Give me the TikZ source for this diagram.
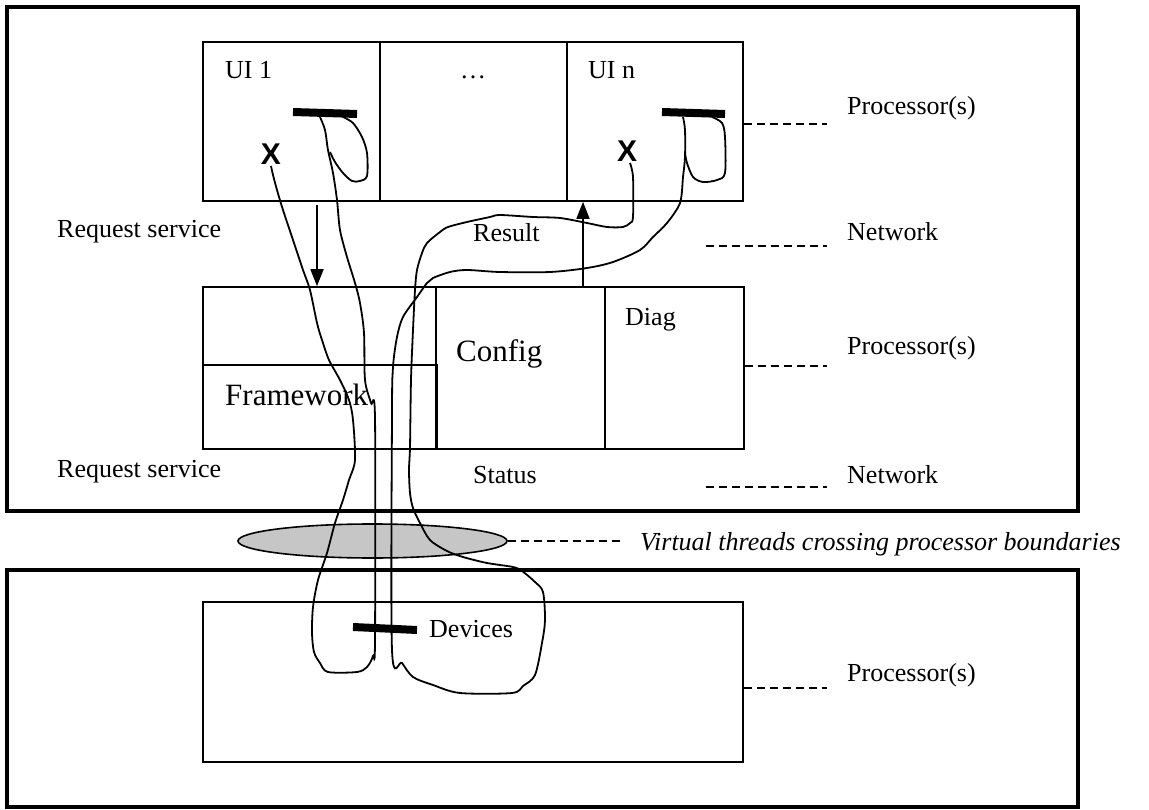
\documentclass[tikz,border=0pt]{standalone}
\usepackage{fontspec}
\setmainfont{Liberation Serif}
\newfontfamily\xsans{Liberation Sans}
\usetikzlibrary{arrows.meta,shapes.geometric}
\begin{document}
\begin{tikzpicture}[x=1pt,y=-1pt,
  outer/.style={draw, line width=4pt, inner sep=0pt},
  box/.style={draw, line width=1.6pt, inner sep=0pt},
  thread/.style={line width=1.8pt},
  bar/.style={line width=8pt},
  lead/.style={line width=1.6pt, dash pattern=on 8pt off 5pt},
  lbl/.style={anchor=base west, inner sep=0pt, font=\fontsize{26}{30}\selectfont},
  big/.style={anchor=base west, inner sep=0pt, font=\fontsize{31}{36}\selectfont},
  xmark/.style={inner sep=0pt, font=\xsans\bfseries\fontsize{30}{30}\selectfont},
  req/.style={line width=1.6pt, -{Triangle[length=17pt,width=13pt]}}
]
\useasboundingbox (0,0) rectangle (1149,810);

% outer processor boxes
\node[outer, minimum width=1071pt, minimum height=504pt] (top) at (542.5,259) {};
\node[outer, minimum width=1071pt, minimum height=237pt] (bot) at (542.5,688.5) {};

% UI row
\node[box, minimum width=177pt, minimum height=159pt] (ui1) at (291.5,121.5) {};
\node[box, minimum width=187pt, minimum height=159pt] (uimid) at (473.5,121.5) {};
\node[box, minimum width=176pt, minimum height=159pt] (uin) at (655,121.5) {};

% middle row
\node[box, minimum width=233pt, minimum height=162pt] (fwcol) at (319.5,368) {};
\node[box, minimum width=234pt, minimum height=84pt] (fw) at (320,407) {};
\node[box, minimum width=169pt, minimum height=162pt] (config) at (520.5,368) {};
\node[box, minimum width=139pt, minimum height=162pt] (diag) at (674.5,368) {};

% devices
\node[box, minimum width=540pt, minimum height=160pt] (dev) at (473,682) {};

% ellipse
\node[ellipse, draw, line width=1.6pt, fill=gray!45, minimum width=269pt, minimum height=34pt, inner sep=0pt] (vt) at (372.5,541) {};

% texts
\node[lbl] (tui1) at (225,79) {UI 1};
\node[lbl, anchor=base] (tdots) at (473,79) {…};
\node[lbl] (tuin) at (588,79) {UI n};
\node[lbl] (tproc1) at (847,115) {Processor(s)};
\node[lbl] (treq1) at (57,238) {Request service};
\node[lbl] (tres) at (473,242) {Result};
\node[lbl] (tnet1) at (847,241) {Network};
\node[lbl] (tdiag) at (625,326) {Diag};
\node[big] (tconf) at (456,362) {Config};
\node[big] (tfw) at (225,406) {Framework};
\node[lbl] (tproc2) at (847,355) {Processor(s)};
\node[lbl] (treq2) at (57,477) {Request service};
\node[lbl] (tstat) at (473,483) {Status};
\node[lbl] (tnet2) at (847,483) {Network};
\node[lbl, font=\fontsize{26}{30}\selectfont\itshape] (tvt) at (640,550) {Virtual threads crossing processor boundaries};
\node[lbl] (tdev) at (429,637) {Devices};
\node[lbl] (tproc3) at (847,681) {Processor(s)};

% leaders
\coordinate (l1) at (827,124);
\coordinate (l2a) at (706,246); \coordinate (l2) at (827,246);
\coordinate (l3) at (827,366);
\coordinate (l4a) at (706,487); \coordinate (l4) at (827,487);
\coordinate (l5) at (621,541);
\coordinate (l6) at (827,688);
\draw[lead] (uin.east |- l1) -- (l1);
\draw[lead] (l2a) -- (l2);
\draw[lead] (diag.east |- l3) -- (l3);
\draw[lead] (l4a) -- (l4);
\draw[lead] (vt.east) -- (l5);
\draw[lead] (dev.east |- l6) -- (l6);

% request / result arrows
\coordinate (dn) at (317,205);
\coordinate (up) at (583,0);
\draw[req] (dn) -- (fwcol.north -| dn);
\draw[req] (config.north -| up) -- (uin.south -| up);

% bars
\draw[bar] (293,112) -- (357,114);
\draw[bar] (662,112) -- (725,114);
\draw[bar] (353,627) -- (417,630);

% X marks
\node[xmark] (x1) at (271,154) {X};
\node[xmark] (xn) at (627,151) {X};

% thread A (UI 1)
\draw[thread] plot[smooth, tension=0.5] coordinates {
 (320,117) (325,130) (328,150) (333,173) (337,200) (340,230) (347,257) (355,283)
 (360,303) (364,333) (365,380) (371,403) (375,418) (375,640) (373,656) (367,667)
 (357,672) (328,672) (320,663) (314,652) (312,633) (313,607) (318,580) (327,553)
 (335,523) (343,500) (349,480) (355,460) (353,420) (349,400) (340,380) (329,360)
 (322,340) (317,323) (310,290) (303,270) (293,240) (283,210) (277,190) (273,175) (271,166)};
\draw[thread] plot[smooth, tension=0.5] coordinates {
 (343,117) (353,123) (362,137) (367,153) (367,176) (360,181) (352,181) (343,173) (335,162) (330,152)};

% thread B (UI n)
\draw[thread] plot[smooth, tension=0.5] coordinates {
 (683,117) (685,130) (685,157) (683,177) (680,203) (667,223) (653,237) (640,250)
 (613,262) (587,268) (550,272) (500,272) (467,270) (450,272) (433,278) (427,283)
 (417,297) (403,317) (397,337) (393,367) (392,413) (392,650) (402,663) (413,677)
 (433,685) (460,693) (512,693) (523,686) (535,675) (542,643) (545,620) (543,592)
 (535,582) (522,571) (513,567) (487,563) (463,557) (447,551) (430,540) (420,523)
 (413,508) (410,493) (409,470) (410,447) (411,380) (413,330) (415,290) (417,270)
 (422,253) (427,243) (440,232) (448,227) (467,222) (490,217) (500,215) (533,217)
 (560,218) (587,223) (607,227) (623,227) (630,223) (633,217) (633,177) (630,163)};
\draw[thread] plot[smooth, tension=0.5] coordinates {
 (712,117) (722,123) (725,137) (725,173) (717,180) (703,182) (693,177) (687,163) (685,153)};
\end{tikzpicture}
\end{document}
